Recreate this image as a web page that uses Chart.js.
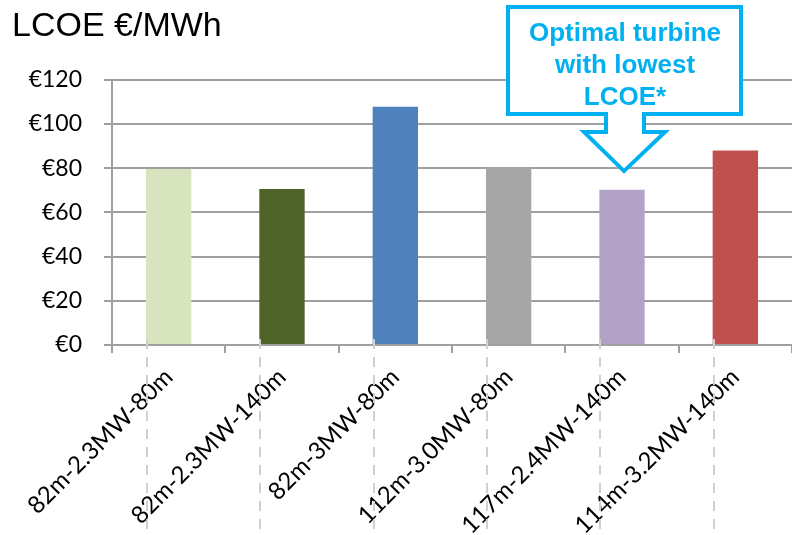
<!DOCTYPE html>
<html>
<head>
<meta charset="utf-8">
<script src="https://cdn.jsdelivr.net/npm/chart.js@4.4.0/dist/chart.umd.min.js"></script>
<style>
  html, body { margin: 0; padding: 0; background: #fff; }
  #wrap { width: 792px; height: 535px; }
</style>
</head>
<body>
<div id="wrap"><canvas id="lcoeChart"></canvas></div>
<script>
// turbine configs (rotor - rating - hub height)
const turbines = ['82m-2.3MW-80m', '82m-2.3MW-140m', '82m-3MW-80m', '112m-3.0MW-80m', '117m-2.4MW-140m', '114m-3.2MW-140m'];
const lcoeValues = [79.6, 70.6, 107.8, 80.3, 70.2, 88.0];
const barColors = ['#D7E4BD', '#4F6228', '#4F81BD', '#A6A6A6', '#B3A2C7', '#C0504D'];
const yTickValues = [0, 20, 40, 60, 80, 100, 120];
const calloutLines = ['Optimal turbine', 'with lowest', 'LCOE*'];

const gridGrey = '#a0a0a0';
const cyan = '#00B0F0';

// dashed leader lines under each bar's left edge
const dashPlugin = {
  id: 'dashLines',
  afterDatasetsDraw(chart) {
    const ctx = chart.ctx;
    const meta = chart.getDatasetMeta(0);
    ctx.save();
    ctx.strokeStyle = '#d0d0d0';
    ctx.lineWidth = 2;
    ctx.setLineDash([10, 8]);
    meta.data.forEach(bar => {
      const left = Math.round(bar.x - bar.width / 2) + 1;
      ctx.beginPath();
      ctx.moveTo(left, chart.chartArea.bottom - 6);
      ctx.lineTo(left, chart.height);
      ctx.stroke();
    });
    ctx.restore();
  }
};

// callout box pointing at the cheapest turbine
const calloutPlugin = {
  id: 'callout',
  afterDraw(chart) {
    const ctx = chart.ctx;
    const xs = chart.scales.x, ys = chart.scales.y;
    const best = lcoeValues.indexOf(Math.min(...lcoeValues));
    const tipX = xs.getPixelForValue(best) + 2;
    const tipY = ys.getPixelForValue(lcoeValues[best] + 8.5);
    const left = tipX - 116, right = tipX + 117, top = 7, bottom = 114;
    const neck = 132;

    ctx.save();
    ctx.beginPath();
    ctx.moveTo(left, top);
    ctx.lineTo(right, top);
    ctx.lineTo(right, bottom);
    ctx.lineTo(tipX + 20, bottom);
    ctx.lineTo(tipX + 20, neck);
    ctx.lineTo(tipX + 41, neck);
    ctx.lineTo(tipX, tipY);
    ctx.lineTo(tipX - 40, neck);
    ctx.lineTo(tipX - 18, neck);
    ctx.lineTo(tipX - 18, bottom);
    ctx.lineTo(left, bottom);
    ctx.closePath();
    ctx.fillStyle = '#fff';
    ctx.fill();
    ctx.lineWidth = 4;
    ctx.strokeStyle = cyan;
    ctx.stroke();

    ctx.fillStyle = cyan;
    ctx.font = 'bold 26px "Liberation Sans", Arial, sans-serif';
    ctx.textAlign = 'center';
    ctx.textBaseline = 'alphabetic';
    calloutLines.forEach((line, i) => {
      ctx.fillText(line, tipX + 1, 41 + i * 32);
    });
    ctx.restore();
  }
};

const ctx = document.getElementById('lcoeChart').getContext('2d');
new Chart(ctx, {
  type: 'bar',
  data: {
    labels: turbines,
    datasets: [{
      label: 'LCOE',
      data: lcoeValues,
      backgroundColor: barColors,
      barPercentage: 0.4,
      categoryPercentage: 1.0
    }]
  },
  options: {
    responsive: true,
    maintainAspectRatio: false,
    animation: false,
    layout: { padding: { left: 12, right: 0, top: 0, bottom: 0 } },
    plugins: {
      legend: { display: false },
      tooltip: { enabled: false },
      title: {
        display: true,
        text: 'LCOE €/MWh',
        align: 'start',
        color: '#000',
        font: { family: '"Liberation Sans", Arial, sans-serif', size: 34, weight: 'normal' },
        padding: { top: 6, bottom: 33 }
      }
    },
    scales: {
      x: {
        grid: {
          offset: true,
          drawOnChartArea: false,
          tickLength: 8,
          color: gridGrey,
          lineWidth: 2
        },
        border: { display: true, color: gridGrey, width: 2 },
        ticks: {
          color: '#000',
          font: { family: 'Lato, "Open Sans", sans-serif', size: 24 },
          minRotation: 45,
          maxRotation: 45,
          padding: 10
        },
        afterFit(scale) {
          scale.height = 190;
          scale.paddingRight = 0;
          scale.paddingLeft = 0;
        }
      },
      y: {
        min: 0,
        max: 120,
        afterBuildTicks(scale) {
          scale.ticks = yTickValues.map(v => ({ value: v }));
        },
        grid: { color: gridGrey, lineWidth: 2, tickLength: 8 },
        border: { display: true, color: gridGrey, width: 2 },
        ticks: {
          color: '#000',
          font: { family: 'Lato, "Open Sans", sans-serif', size: 23 },
          padding: 22,
          callback: v => '€' + v
        },
        afterFit(scale) {
          scale.width = 100;
        }
      }
    }
  },
  plugins: [dashPlugin, calloutPlugin]
});
</script>
</body>
</html>
